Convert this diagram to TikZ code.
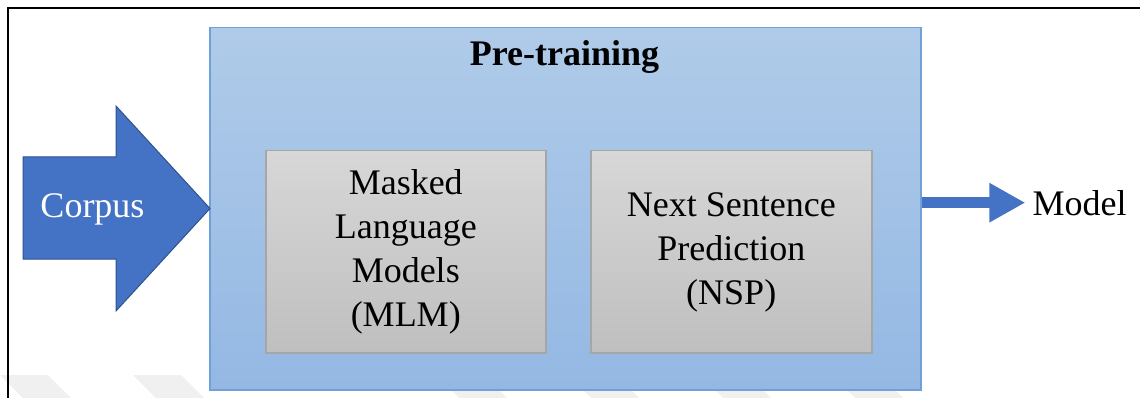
\documentclass[tikz,border=0pt]{standalone}
\usepackage{fontspec}
\setmainfont{LiberationSerif}[Extension=.ttf, UprightFont=*-Regular, BoldFont=*-Bold,
  ItalicFont=*-Italic, BoldItalicFont=*-BoldItalic]
\usetikzlibrary{arrows.meta}

\definecolor{paneltop}{HTML}{B0CBE9}
\definecolor{panelbot}{HTML}{94B8E3}
\definecolor{paneledge}{HTML}{6FA0DA}
\definecolor{boxtop}{HTML}{D7D7D7}
\definecolor{boxbot}{HTML}{BFBFBF}
\definecolor{boxedge}{HTML}{A6A6A6}
\definecolor{arrowblue}{HTML}{4472C4}
\definecolor{arrowedge}{HTML}{2F528F}
\definecolor{stripegray}{HTML}{F0F0F0}

\tikzset{
  label36/.style={font=\rmfamily\fontsize{36}{44}\selectfont, inner sep=0pt},
  panel/.style={draw=paneledge, line width=1.5pt, top color=paneltop, bottom color=panelbot,
    inner sep=0pt, anchor=north west},
  taskbox/.style={draw=boxedge, line width=1.5pt, top color=boxtop, bottom color=boxbot,
    inner sep=0pt, anchor=north west},
  tasktext/.style={label36, align=center},
  bigarrow/.style={fill=arrowblue, draw=arrowedge, line width=1pt, line join=miter},
  flow/.style={draw=arrowblue, line width=11pt,
    -{Triangle[length=36pt, width=37pt]}, shorten >=7pt},
  stripe/.style={fill=stripegray, draw=none},
}

\begin{document}
\begin{tikzpicture}[x=1pt, y=-1pt]
  \useasboundingbox (0,0) rectangle (1140,398);

  % faint slanted stripes along the bottom edge
  \foreach \a in {0,133,436,568,700,832}
    \fill[stripe] (\a,375) -- (\a+48,375) -- (\a+71,398) -- (\a+23,398) -- cycle;

  % page frame
  \draw[line width=1.5pt] (8,398) -- (8,8) -- (1140,8);

  % pre-training panel
  \node[panel, minimum width=711pt, minimum height=362pt] (pre) at (209,27) {};
  \node[label36, font=\rmfamily\fontsize{36}{44}\selectfont\bfseries, anchor=base] (title)
    at (564.5,66) {Pre-training};

  % the two training tasks
  \node[taskbox, minimum width=280pt, minimum height=202pt] (mlmbox) at (265,150) {};
  \node[tasktext] (mlm) at (mlmbox.center)
    {Masked\\Language\\Models\\(MLM)};
  \node[taskbox, minimum width=281pt, minimum height=202pt] (nspbox) at (590,150) {};
  \node[tasktext] (nsp) at ([yshift=-1pt]nspbox.center)
    {Next Sentence\\Prediction\\(NSP)};

  % input block arrow
  \draw[bigarrow] (23,157) -- (116,157) -- (116,106) -- (210,208.5)
    -- (116,311) -- (116,259) -- (23,259) -- cycle;
  \node[label36, text=white, anchor=base] (corpus) at (92.5,218) {Corpus};

  % output
  \node[label36, anchor=base] (model) at (1079.5,215) {Model};
  \draw[flow] (pre.east |- model.west) -- (model.west);
\end{tikzpicture}
\end{document}
